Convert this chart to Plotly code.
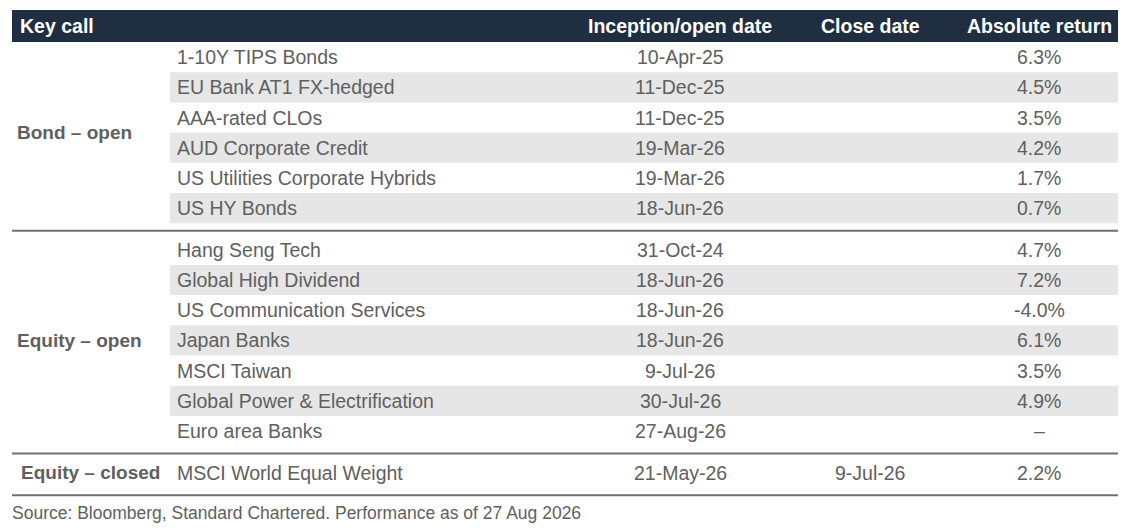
import plotly.graph_objects as go

# ---- data ----
headers = ["Key call", "Inception/open date", "Close date", "Absolute return"]
groups = ["Bond – open", "Equity – open", "Equity – closed"]
row_group = [0, 0, 0, 0, 0, 0,
             1, 1, 1, 1, 1, 1, 1,
             2]
calls = ["1-10Y TIPS Bonds", "EU Bank AT1 FX-hedged", "AAA-rated CLOs",
         "AUD Corporate Credit", "US Utilities Corporate Hybrids", "US HY Bonds",
         "Hang Seng Tech", "Global High Dividend", "US Communication Services",
         "Japan Banks", "MSCI Taiwan", "Global Power & Electrification",
         "Euro area Banks",
         "MSCI World Equal Weight"]
open_dates = ["10-Apr-25", "11-Dec-25", "11-Dec-25", "19-Mar-26", "19-Mar-26", "18-Jun-26",
              "31-Oct-24", "18-Jun-26", "18-Jun-26", "18-Jun-26", "9-Jul-26", "30-Jul-26",
              "27-Aug-26",
              "21-May-26"]
close_dates = ["", "", "", "", "", "",
               "", "", "", "", "", "", "",
               "9-Jul-26"]
returns = [6.3, 4.5, 3.5, 4.2, 1.7, 0.7,
           4.7, 7.2, -4.0, 6.1, 3.5, 4.9, None,
           2.2]
source = "Source: Bloomberg, Standard Chartered. Performance as of 27 Aug 2026"

# ---- style ----
W, H = 1126, 532
PAGE_OFF = 8  # default page body margin
NAVY = "#1f2e40"
BAND = "#e6e6e6"
TXT = "#606060"
LINE = "#707070"
FONT = "Liberation Sans, Arial, sans-serif"
x_left, x_right = 12, 1118
x_item = 170
col_group_x = [15, 15, 19]
col_item_x = 175
col_open_x = 680
col_close_x = 870
col_ret_x = 1039
header_top, header_bot = 10, 42
row_h = 30.2
gap_before_line = 7.5
gap_after_line = 4

shapes = []
annotations = []

# header
shapes.append(dict(type="rect", xref="x", yref="y", x0=x_left, x1=x_right,
                   y0=header_top, y1=header_bot, fillcolor=NAVY, line_width=0, layer="below"))
hy = (header_top + header_bot) / 2
hfont = dict(family=FONT, size=19.5, color="white")
annotations.append(dict(x=18, y=hy, text="<b>%s</b>" % headers[0], xanchor="left", font=hfont))
annotations.append(dict(x=col_open_x, y=hy, text="<b>%s</b>" % headers[1], xanchor="center", font=hfont))
annotations.append(dict(x=col_close_x, y=hy, text="<b>%s</b>" % headers[2], xanchor="center", font=hfont))
annotations.append(dict(x=col_ret_x, y=hy, text="<b>%s</b>" % headers[3], xanchor="center", font=hfont))

bfont = dict(family=FONT, size=19.5, color=TXT)

y = header_bot
line_ys = []
for g, gname in enumerate(groups):
    idx = [i for i, rg in enumerate(row_group) if rg == g]
    g_top = y
    for k, i in enumerate(idx):
        y0, y1 = y, y + row_h
        yc = (y0 + y1) / 2
        if k % 2 == 1:
            shapes.append(dict(type="rect", xref="x", yref="y", x0=x_item, x1=x_right,
                               y0=y0, y1=y1, fillcolor=BAND, line_width=0, layer="below"))
        annotations.append(dict(x=col_item_x, y=yc, text=calls[i], xanchor="left", font=bfont))
        annotations.append(dict(x=col_open_x, y=yc, text=open_dates[i], xanchor="center", font=bfont))
        if close_dates[i]:
            annotations.append(dict(x=col_close_x, y=yc, text=close_dates[i], xanchor="center", font=bfont))
        r = returns[i]
        rtxt = "–" if r is None else "%.1f%%" % r
        annotations.append(dict(x=col_ret_x, y=yc, text=rtxt, xanchor="center", font=bfont))
        y = y1
    g_bot = y
    annotations.append(dict(x=col_group_x[g], y=(g_top + g_bot) / 2, text="<b>%s</b>" % gname,
                            xanchor="left", font=dict(family=FONT, size=19, color=TXT)))
    y += gap_before_line
    shapes.append(dict(type="line", xref="x", yref="y", x0=x_left, x1=x_right,
                       y0=y, y1=y, line=dict(color=LINE, width=2)))
    line_ys.append(y)
    y += gap_after_line

annotations.append(dict(x=10, y=line_ys[-1] + 18, text=source, xanchor="left",
                        font=dict(family=FONT, size=17.5, color=TXT)))

for a in annotations:
    a.update(xref="x", yref="y", showarrow=False, yanchor="middle")

fig = go.Figure()
fig.update_layout(
    width=W - PAGE_OFF, height=H - PAGE_OFF, margin=dict(l=0, r=0, t=0, b=0, pad=0),
    paper_bgcolor="white", plot_bgcolor="white",
    xaxis=dict(range=[PAGE_OFF, W], visible=False, fixedrange=True),
    yaxis=dict(range=[H, PAGE_OFF], visible=False, fixedrange=True),
    shapes=shapes, annotations=annotations, showlegend=False,
)
fig.write_html("out.html", config={"displayModeBar": False})
